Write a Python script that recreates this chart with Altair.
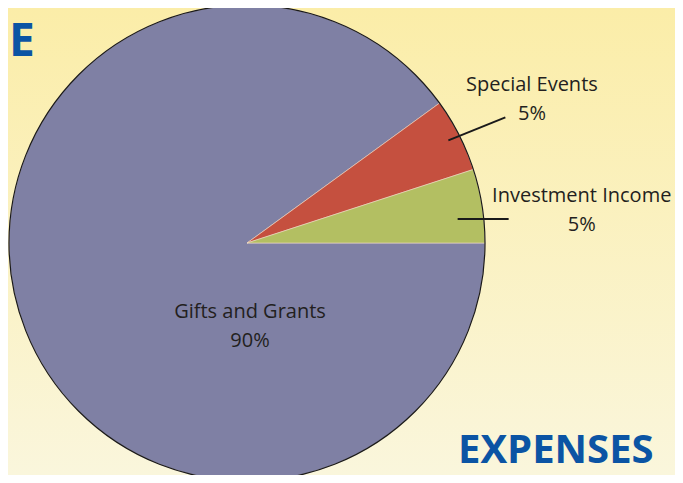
import math
import numpy as np
import pandas as pd
import altair as alt

# ---- data ----
categories = ["Gifts and Grants", "Special Events", "Investment Income"]
shares = [90, 5, 5]
pct_labels = ["90%", "5%", "5%"]
slice_colors = ["#7f80a4", "#c5503f", "#b3bf62"]
corner_titles = ["E", "EXPENSES"]

# ---- layout / style ----
W, H = 667, 467
CX, CY = 239, 235
R = 238
TEXT_COLOR = "#231f20"
TITLE_COLOR = "#0b54a4"
FONT = "Open Sans"

# mid angles (degrees, counter-clockwise from east); pie runs CCW from east:
# Investment Income, Special Events, then Gifts and Grants
ccw_order = categories[::-1]
ccw_shares = np.array([shares[categories.index(c)] for c in ccw_order], dtype=float)
starts = np.concatenate([[0.0], np.cumsum(ccw_shares)[:-1]]) / ccw_shares.sum() * 360
mids = starts + ccw_shares / ccw_shares.sum() * 180
mid_angle = dict(zip(ccw_order, mids))

# label layout: (radius along mid angle, dx, dy)
LABEL_LAYOUT = {
    "Gifts and Grants": (0, 3, 89.5),
    "Special Events": (316, 3.4, 5.5),
    "Investment Income": (345, -6, 27.5),
}
# leader layout: (start radius, angle offset from mid, end dx, end dy)
LEADER_LAYOUT = {
    "Special Events": (226, 0.0, 57, -23),
    "Investment Income": (212, -2.5, 51, 0),
}
HALF_GAP = 14.5

pie_df = pd.DataFrame({
    "category": categories,
    "value": shares,
    "order": list(range(len(categories))),
})

rows = []
for c, p in zip(categories, pct_labels):
    r, dx, dy = LABEL_LAYOUT[c]
    a = math.radians(mid_angle[c])
    x = CX + r * math.cos(a) + dx
    y = CY - r * math.sin(a) + dy
    rows.append({"text": c, "x": x, "y": y - HALF_GAP})
    rows.append({"text": p, "x": x, "y": y + HALF_GAP})
label_df = pd.DataFrame(rows)

lead_rows = []
for c, (r1, da, ex, ey) in LEADER_LAYOUT.items():
    a = math.radians(mid_angle[c] + da)
    x1 = CX + r1 * math.cos(a)
    y1 = CY - r1 * math.sin(a)
    lead_rows.append({"category": c, "x": x1, "y": y1, "x2": x1 + ex, "y2": y1 + ey})
lead_df = pd.DataFrame(lead_rows)

dummy = pd.DataFrame({"k": [0]})

background = alt.Chart(dummy).mark_rect(
    color=alt.Gradient(
        gradient="linear",
        stops=[alt.GradientStop(color="#fbeda8", offset=0),
               alt.GradientStop(color="#faf6dc", offset=1)],
        x1=0, x2=0, y1=0, y2=1,
    )
).encode(x=alt.value(0), x2=alt.value(W), y=alt.value(0), y2=alt.value(H))

pie = alt.Chart(pie_df).mark_arc(
    outerRadius=R, stroke="#efd9c8", strokeWidth=0.6
).encode(
    theta=alt.Theta("value:Q", stack=True,
                    scale=alt.Scale(range=[math.pi / 2, math.pi / 2 + 2 * math.pi])),
    order=alt.Order("order:Q"),
    color=alt.Color("category:N",
                    scale=alt.Scale(domain=categories, range=slice_colors),
                    legend=None),
    x=alt.value(CX),
    y=alt.value(CY),
)

outline = alt.Chart(dummy).mark_arc(
    outerRadius=R, theta=0, theta2=2 * math.pi, filled=False,
    stroke="#1a1a1a", strokeWidth=1.2
).encode(x=alt.value(CX), y=alt.value(CY))

leaders = alt.Chart(lead_df).mark_rule(color="#1a1a1a", strokeWidth=2).encode(
    x=alt.X("x:Q", scale=None), y=alt.Y("y:Q", scale=None),
    x2="x2:Q", y2="y2:Q",
)

labels = alt.Chart(label_df).mark_text(
    font=FONT, fontSize=20, color=TEXT_COLOR, align="center", baseline="alphabetic"
).encode(
    x=alt.X("x:Q", scale=None), y=alt.Y("y:Q", scale=None), text="text:N"
)

title_df = pd.DataFrame({
    "text": corner_titles,
    "x": [1, 450],
    "y": [48, 455],
})
title_e = alt.Chart(title_df.iloc[[0]]).mark_text(
    font=FONT, fontSize=46, fontWeight="bold", color=TITLE_COLOR,
    align="left", baseline="alphabetic"
).encode(x=alt.X("x:Q", scale=None), y=alt.Y("y:Q", scale=None), text="text:N")
title_exp = alt.Chart(title_df.iloc[[1]]).mark_text(
    font=FONT, fontSize=40, fontWeight="bold", color=TITLE_COLOR,
    align="left", baseline="alphabetic"
).encode(x=alt.X("x:Q", scale=None), y=alt.Y("y:Q", scale=None), text="text:N")

chart = alt.layer(
    background, pie, outline, leaders, labels, title_e, title_exp
).properties(
    width=W, height=H, autosize=alt.AutoSizeParams(type="none"), padding=0,
    background="#faf3cc"
).configure_view(stroke=None)

chart.save("out.html", embed_options={"renderer": "svg", "actions": False})
